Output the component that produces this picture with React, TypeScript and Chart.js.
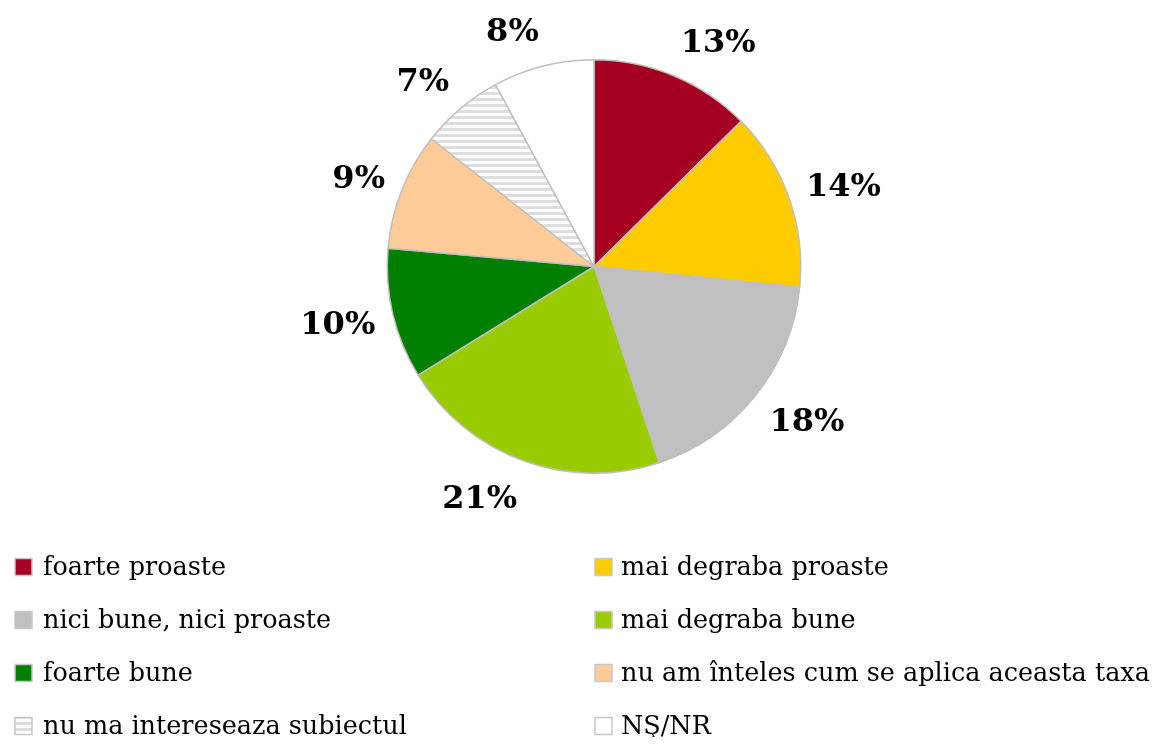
import React, { useEffect, useRef } from "react";
import { Chart, registerables } from "chart.js";

Chart.register(...registerables);

const categories = [
  "foarte proaste",
  "mai degraba proaste",
  "nici bune, nici proaste",
  "mai degraba bune",
  "foarte bune",
  "nu am înteles cum se aplica aceasta taxa",
  "nu ma intereseaza subiectul",
  "NŞ/NR",
];
const values = [12.6, 14.0, 18.3, 21.3, 10.2, 9.2, 6.5, 7.9];
const colors = ["#A50021", "#FFCC00", "#C0C0C0", "#99CC00", "#008000", "#FFCC99", "HATCH", "#FFFFFF"];
const percentLabels = ["13%", "14%", "18%", "21%", "10%", "9%", "7%", "8%"];

function makeHatch(): CanvasPattern | string {
  const c = document.createElement("canvas");
  c.width = 6;
  c.height = 6;
  const ctx = c.getContext("2d");
  if (!ctx) return "#eeeeee";
  ctx.fillStyle = "#ffffff";
  ctx.fillRect(0, 0, 6, 6);
  ctx.fillStyle = "#dedede";
  ctx.fillRect(0, 0, 6, 3);
  return ctx.createPattern(c, "repeat") || "#eeeeee";
}

export default function App() {
  const ref = useRef<HTMLCanvasElement | null>(null);

  useEffect(() => {
    if (!ref.current) return;
    const hatch = makeHatch();
    const fills = colors.map((c) => (c === "HATCH" ? hatch : c));

    const labelPlugin = {
      id: "pctLabels",
      afterDatasetsDraw(chart: any) {
        const ctx = chart.ctx;
        const meta = chart.getDatasetMeta(0);
        ctx.save();
        ctx.font = "bold 32px 'DejaVu Serif'";
        ctx.fillStyle = "#000";
        ctx.textAlign = "center";
        ctx.textBaseline = "middle";
        meta.data.forEach((arc: any, i: number) => {
          const p = arc.getProps(["x", "y", "startAngle", "endAngle", "outerRadius"], true);
          const mid = (p.startAngle + p.endAngle) / 2;
          const dx = Math.cos(mid);
          const dy = Math.sin(mid);
          const w = ctx.measureText(percentLabels[i]).width;
          const d = p.outerRadius + 18;
          const cx = p.x + dx * d + Math.sign(dx) * (w / 2);
          const cy = p.y + dy * d + dy * 20 + 3;
          ctx.fillText(percentLabels[i], cx, cy);
        });
        ctx.restore();
      },
    };

    const legendPlugin = {
      id: "gridLegend",
      afterDraw(chart: any) {
        const ctx = chart.ctx;
        ctx.save();
        ctx.font = "25.5px 'DejaVu Serif'";
        ctx.textBaseline = "middle";
        ctx.textAlign = "left";
        const colBox = [7, 587];
        const colText = [35, 613];
        const rowY = [559, 612, 665, 718];
        categories.forEach((name, i) => {
          const col = i % 2;
          const row = Math.floor(i / 2);
          const bx = colBox[col];
          const by = rowY[row] - 8.5;
          ctx.fillStyle = fills[i];
          ctx.fillRect(bx, by, 17, 17);
          ctx.strokeStyle = "#C8C8C8";
          ctx.lineWidth = 1.5;
          ctx.strokeRect(bx, by, 17, 17);
          ctx.fillStyle = "#000";
          ctx.fillText(name, colText[col], rowY[row] + 1);
        });
        ctx.restore();
      },
    };

    const chart = new Chart(ref.current, {
      type: "pie",
      data: {
        labels: categories,
        datasets: [
          {
            data: values,
            backgroundColor: fills,
            borderColor: "#BFBFBF",
            borderWidth: 1.5,
          },
        ],
      },
      options: {
        responsive: false,
        animation: false,
        layout: { padding: { top: 51, bottom: 263, left: 186, right: 165 } },
        plugins: {
          legend: { display: false },
          tooltip: { enabled: false },
        },
      },
      plugins: [labelPlugin, legendPlugin],
    });
    return () => chart.destroy();
  }, []);

  return (
    <div style={{ width: 1151, height: 729 }}>
      <canvas ref={ref} width={1151} height={729} style={{ display: "block" }} />
    </div>
  );
}
